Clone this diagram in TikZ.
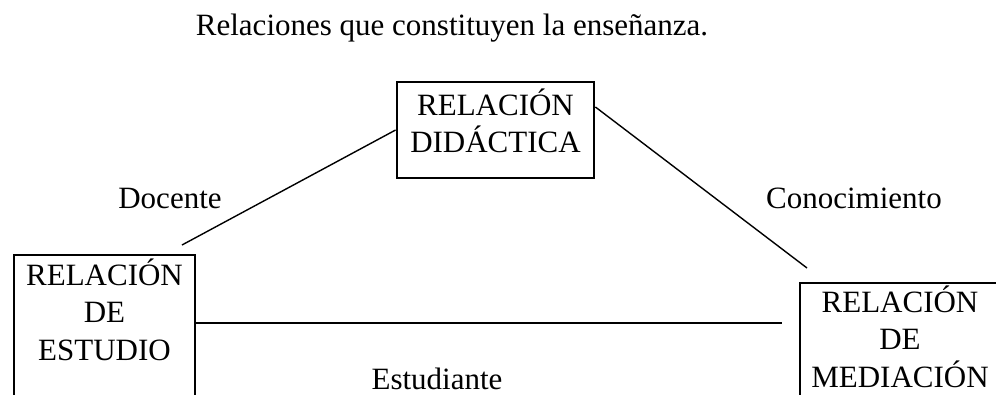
\documentclass[tikz,border=0pt]{standalone}
\usepackage{fontspec}
\setmainfont{Liberation Serif}

\tikzset{
    caja/.style={draw, line width=2.8pt, align=center, inner xsep=0pt, inner ysep=0pt,
        font=\fontsize{31}{37.5}\selectfont},
    rotulo/.style={anchor=base, inner sep=0pt, font=\fontsize{31}{37.5}\selectfont},
    enlace/.style={line width=1.4pt}
}

\begin{document}
\begin{tikzpicture}[x=1pt, y=-1pt]

    \useasboundingbox (0,0) rectangle (996,394);
    \clip (0,0) rectangle (996,394);

    % --- Titolo ---
    \node[rotulo] (titulo) at (452,35) {Relaciones que constituyen la enseñanza.};

    % --- Caselle delle relazioni ---
    \node[caja, anchor=base, text width=197pt, text height=33pt, text depth=63pt]
        (didactica) at (495.5,115) {RELACIÓN\\DIDÁCTICA};
    \node[caja, anchor=base, text width=181pt, text height=30pt, text depth=150pt]
        (estudio) at (104.5,285) {RELACIÓN\\DE\\ESTUDIO};
    \node[caja, anchor=base, text width=200pt, text height=29pt, text depth=150pt]
        (mediacion) at (900,312) {RELACIÓN\\DE\\MEDIACIÓN};

    % --- Estremi liberi dei collegamenti ---
    \coordinate (docfin) at (182,245);
    \coordinate (conofin) at (807,268);
    \coordinate (estfin) at (782,323);

    % --- Collegamenti ---
    \draw[enlace] (didactica.west) -- (docfin);
    \draw[enlace] ([yshift=23pt]didactica.east) -- (conofin);
    \draw[enlace] (estudio.east |- estfin) -- (estfin);

    % --- Etichette ---
    \node[rotulo] (docente) at (170,208) {Docente};
    \node[rotulo] (conocimiento) at (854,208) {Conocimiento};
    \node[rotulo, text depth=0pt] (estudiante) at (437,389) {Estudiante};

\end{tikzpicture}
\end{document}
